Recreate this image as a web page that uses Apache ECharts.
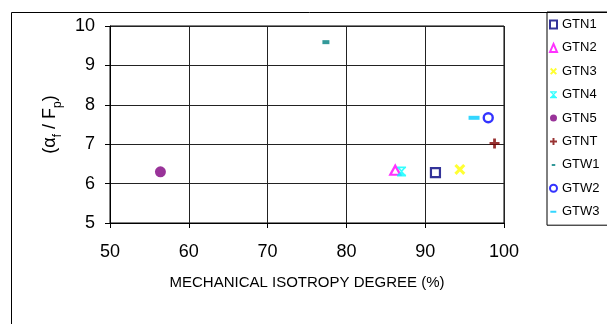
<!DOCTYPE html>
<html>
<head>
<meta charset="utf-8">
<script src="https://cdn.jsdelivr.net/npm/echarts@6/dist/echarts.min.js"></script>
<style>
  html, body { margin: 0; padding: 0; background: #fff; }
  #chart { width: 607px; height: 324px; }
</style>
</head>
<body>
<div id="chart"></div>
<script>
// Series names and their [isotropy degree %, αf/Fp] points
const seriesNames = ['GTN1', 'GTN2', 'GTN3', 'GTN4', 'GTN5', 'GTNT', 'GTW1', 'GTW2', 'GTW3'];
const isotropy = [91.3, 86.2, 94.4, 87.0, 56.4, 98.8, 77.4, 98.0, 96.2];
const ratio = [6.28, 6.34, 6.36, 6.31, 6.30, 7.02, 9.59, 7.67, 7.67];

// Axis ranges and tick spacing
const xTicks = { min: 50, max: 100, interval: 10 };
const yTicks = { min: 5, max: 10, interval: 1 };

const FONT = '"Liberation Sans", Arial, sans-serif';

// Marker shapes (10x10 boxes)
const X_PATH = 'path://M0,2 L2,0 L5,3 L8,0 L10,2 L7,5 L10,8 L8,10 L5,7 L2,10 L0,8 L3,5 Z';
const STAR_PATH = 'path://M0,0 L10,0 L10,1.8 L9.2,1.8 L6,5 L9.2,8.2 L10,8.2 L10,10 L0,10 L0,8.2 L0.8,8.2 L4,5 L0.8,1.8 L0,1.8 Z M3.2,1.8 L5,3.6 L6.8,1.8 Z M3.2,8.2 L5,6.4 L6.8,8.2 Z';
const PLUS_PATH = 'path://M3.6,0 L6.4,0 L6.4,3.6 L10,3.6 L10,6.4 L6.4,6.4 L6.4,10 L3.6,10 L3.6,6.4 L0,6.4 L0,3.6 L3.6,3.6 Z';
const BAR_PATH = 'path://M0,0 L10,0 L10,10 L0,10 Z';

// Legend icons: a tiny segment at each corner fixes the 10x10 box, so the
// shape inside keeps its own proportions when the legend scales it
const BOX = 'M0,0 L0.01,0 M10,10 L9.99,10 ';
const LEG_SHORT_BAR = 'path://' + BOX + 'M2.5,3.6 L7.5,3.6 L7.5,6.6 L2.5,6.6 Z';
const LEG_LONG_BAR = 'path://' + BOX + 'M0.5,3.6 L9,3.6 L9,6.6 L0.5,6.6 Z';

const styles = {
  GTN1: { symbol: 'rect', size: [9, 9], itemStyle: { color: '#ffffff', borderColor: '#000080', borderWidth: 2.2 } },
  GTN2: { symbol: 'triangle', size: [10, 9], itemStyle: { color: '#ffffff', borderColor: '#ff00ff', borderWidth: 2.2 } },
  GTN3: { symbol: X_PATH, size: [11, 11], itemStyle: { color: '#ffff00' } },
  GTN4: { symbol: STAR_PATH, size: [9, 10], itemStyle: { color: '#00ffff' } },
  GTN5: { symbol: 'circle', size: 11, itemStyle: { color: '#800080' } },
  GTNT: { symbol: PLUS_PATH, size: [10, 10], itemStyle: { color: '#800000' } },
  GTW1: { symbol: BAR_PATH, size: [7, 4], itemStyle: { color: '#008080' } },
  GTW2: { symbol: 'circle', size: 9, itemStyle: { color: '#ffffff', borderColor: '#0000ff', borderWidth: 2.4 } },
  GTW3: { symbol: BAR_PATH, size: [11, 4], itemStyle: { color: '#00ccff' } }
};

const legendIcons = {
  GTN1: 'rect', GTN2: 'triangle', GTN3: X_PATH, GTN4: STAR_PATH, GTN5: 'circle',
  GTNT: PLUS_PATH, GTW1: LEG_SHORT_BAR, GTW2: 'circle', GTW3: LEG_LONG_BAR
};

const series = seriesNames.map((name, i) => ({
  name: name,
  type: 'scatter',
  symbol: styles[name].symbol,
  symbolSize: styles[name].size,
  itemStyle: styles[name].itemStyle,
  data: [[isotropy[i], ratio[i]]],
  z: 3
}));

const chart = echarts.init(document.getElementById('chart'), null, { renderer: 'canvas' });
chart.setOption({
  animation: false,
  backgroundColor: '#ffffff',
  textStyle: { fontFamily: FONT },
  grid: { left: 110, right: 103, top: 26, bottom: 101, show: true, borderColor: '#000', borderWidth: 1, backgroundColor: 'transparent' },
  xAxis: {
    type: 'value',
    min: xTicks.min, max: xTicks.max, interval: xTicks.interval,
    name: 'MECHANICAL ISOTROPY DEGREE (%)',
    nameLocation: 'middle',
    nameGap: 52,
    nameTextStyle: { fontFamily: FONT, fontSize: 15, color: '#000' },
    axisLine: { lineStyle: { color: '#000', width: 1 } },
    axisTick: { show: true, inside: false, length: 5, lineStyle: { color: '#000' } },
    axisLabel: { fontFamily: FONT, fontSize: 18, color: '#000', margin: 20 },
    splitLine: { show: true, lineStyle: { color: '#222', width: 1 } }
  },
  yAxis: {
    type: 'value',
    min: yTicks.min, max: yTicks.max, interval: yTicks.interval,
    name: '{a|(α}{s|f}{a| / F}{s|p}{a|)}',
    nameLocation: 'middle',
    nameRotate: 90,
    nameGap: 50,
    nameTextStyle: {
      fontFamily: FONT, color: '#000',
      rich: {
        a: { fontFamily: FONT, fontSize: 18, color: '#000', verticalAlign: 'bottom' },
        s: { fontFamily: FONT, fontSize: 12, color: '#000', verticalAlign: 'bottom', padding: [0, 0, -5, 0] }
      }
    },
    axisLine: { lineStyle: { color: '#000', width: 1 } },
    axisTick: { show: true, inside: false, length: 5, lineStyle: { color: '#000' } },
    axisLabel: { fontFamily: FONT, fontSize: 18, color: '#000', margin: 15 },
    splitLine: { show: true, lineStyle: { color: '#222', width: 1 } }
  },
  legend: {
    orient: 'vertical',
    left: 547,
    top: 12,
    padding: [6, 14, 7, 2],
    itemWidth: 7,
    itemHeight: 8,
    itemGap: 10.4,
    borderColor: '#000',
    borderWidth: 1,
    textStyle: { fontFamily: FONT, fontSize: 13, color: '#000' },
    data: seriesNames.map(name => ({ name: name, icon: legendIcons[name] }))
  },
  graphic: [
    { type: 'rect', left: 9, top: 10, z: -1, silent: true,
      shape: { x: 0.5, y: 0.5, width: 700, height: 400 },
      style: { fill: 'none', stroke: '#000', lineWidth: 1 } }
  ],
  series: series
});
</script>
</body>
</html>
